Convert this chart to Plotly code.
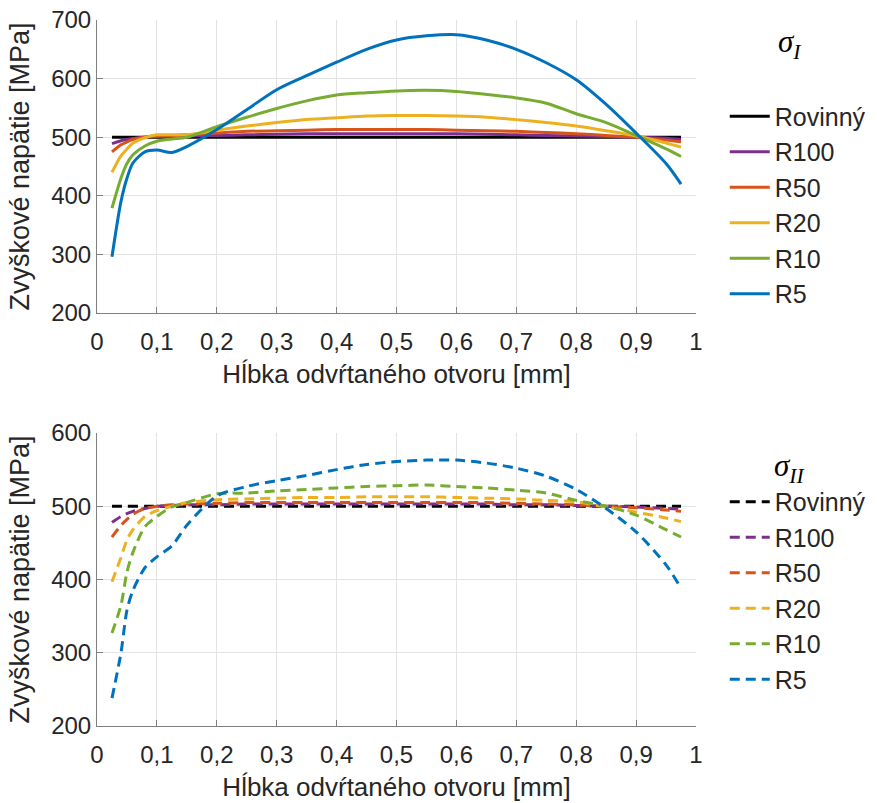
import plotly.graph_objects as go

# ---------------- data ----------------
x = [0.025, 0.04, 0.05, 0.06, 0.08, 0.1, 0.125, 0.15, 0.2, 0.25, 0.3, 0.35, 0.4,
     0.45, 0.5, 0.55, 0.6, 0.65, 0.7, 0.75, 0.8, 0.85, 0.9, 0.95, 0.975]

names = ["Rovinný", "R100", "R50", "R20", "R10", "R5"]

# sigma_I (top)
s1_rov = [500] * 25
s1_r100 = [489, 494, 496, 498, 500, 501, 501, 502, 503, 504, 505, 506, 506,
           506, 506, 506, 506, 505, 504, 503, 502, 501, 500, 498, 496]
s1_r50 = [475, 487, 492, 496, 500, 502, 503, 504, 507, 510, 511, 512, 513,
          513, 513, 513, 512, 511, 510, 508, 506, 503, 500, 495, 492]
s1_r20 = [440, 468, 480, 490, 499, 504, 504, 504, 512, 519, 525, 530, 533,
          536, 537, 537, 536, 534, 530, 525, 519, 511, 502, 490, 483]
s1_r10 = [379, 430, 455, 470, 485, 493, 497, 500, 518, 534, 549, 562, 572,
          576, 579, 580, 578, 573, 567, 558, 540, 525, 503, 480, 467]
s1_r5 = [296, 390, 430, 456, 475, 478, 474, 484, 513, 547, 581, 605, 628,
         650, 666, 673, 675, 666, 650, 627, 598, 556, 507, 455, 420]

# sigma_II (bottom)
s2_rov = [500] * 25
s2_r100 = [478, 486, 490, 493, 497, 500, 501, 502, 502, 503, 503, 503, 503,
           503, 503, 503, 503, 503, 502, 502, 501, 500, 499, 497, 496]
s2_r50 = [458, 474, 482, 489, 497, 500, 502, 503, 504, 505, 505, 505, 505,
          505, 505, 505, 505, 505, 504, 503, 502, 500, 498, 495, 493]
s2_r20 = [397, 430, 454, 468, 486, 494, 500, 505, 509, 510, 511, 512, 512,
          513, 513, 513, 512, 511, 510, 508, 506, 499, 492, 484, 479]
s2_r10 = [327, 365, 410, 437, 472, 486, 499, 505, 517, 518, 521, 523, 525,
          527, 528, 529, 527, 525, 522, 518, 508, 500, 488, 468, 458]
s2_r5 = [238, 300, 358, 385, 416, 431, 446, 474, 514, 527, 535, 542, 550,
         557, 561, 563, 563, 559, 552, 541, 523, 497, 465, 420, 388]

top_series = [s1_rov, s1_r100, s1_r50, s1_r20, s1_r10, s1_r5]
bot_series = [s2_rov, s2_r100, s2_r50, s2_r20, s2_r10, s2_r5]

x_ticks = [0, 0.1, 0.2, 0.3, 0.4, 0.5, 0.6, 0.7, 0.8, 0.9, 1]
x_ticklabels = ["0", "0,1", "0,2", "0,3", "0,4", "0,5", "0,6", "0,7", "0,8", "0,9", "1"]
y1_ticks = [200, 300, 400, 500, 600, 700]
y2_ticks = [200, 300, 400, 500, 600]

x_title = "Hĺbka odvŕtaného otvoru [mm]"
y_title = "Zvyškové napätie [MPa]"
legend_titles = ["<i>σ<sub>I</sub></i>", "<i>σ<sub>II</sub></i>"]

# ---------------- style ----------------
colors = ["#000000", "#7E2F8E", "#D95319", "#EDB120", "#77AC30", "#0072BD"]
FONT = "Liberation Sans, Arial, sans-serif"
SERIF = "Liberation Serif, Times New Roman, serif"
AXIS_COL = "#808080"
TXT_COL = "#262626"
GRID_COL = "#e3e3e3"

fig = go.Figure()

for i, (nm, ys) in enumerate(zip(names, top_series)):
    fig.add_trace(go.Scatter(
        x=x, y=ys, name=nm, mode="lines",
        line=dict(color=colors[i], width=3, shape="spline", smoothing=0.8),
        xaxis="x", yaxis="y", legend="legend"))

for i, (nm, ys) in enumerate(zip(names, bot_series)):
    fig.add_trace(go.Scatter(
        x=x, y=ys, name=nm, mode="lines",
        line=dict(color=colors[i], width=3, dash="10px,6px", shape="spline", smoothing=0.8),
        xaxis="x2", yaxis="y2", legend="legend2"))

axis_common = dict(
    showline=True, linecolor=AXIS_COL, linewidth=1, mirror=False,
    ticks="inside", ticklen=6, tickcolor=AXIS_COL, tickwidth=1,
    showgrid=True, gridcolor=GRID_COL, gridwidth=1, zeroline=False,
    tickfont=dict(family=FONT, size=24, color=TXT_COL),
    automargin=False, ticklabeloverflow="allow",
)

legend_common = dict(
    xanchor="left", yanchor="top",
    font=dict(family=FONT, size=25, color=TXT_COL),
    bgcolor="rgba(0,0,0,0)", borderwidth=0, traceorder="normal",
    itemwidth=40,
)

fig.update_layout(
    width=877, height=803,
    margin=dict(l=97, r=181, t=20, b=77, autoexpand=False),
    plot_bgcolor="white", paper_bgcolor="white",
    showlegend=True,
    xaxis=dict(domain=[0, 1], range=[0, 1], anchor="y", tickvals=x_ticks, ticktext=x_ticklabels,
               ticklabelstandoff=7,
               title=dict(text=x_title, font=dict(family=FONT, size=26, color=TXT_COL), standoff=11),
               **axis_common),
    yaxis=dict(domain=[0.585, 1], range=[200, 700], anchor="x", tickvals=y1_ticks,
               title=dict(text=y_title, font=dict(family=FONT, size=27, color=TXT_COL), standoff=13),
               **axis_common),
    xaxis2=dict(domain=[0, 1], range=[0, 1], anchor="y2", tickvals=x_ticks, ticktext=x_ticklabels,
                ticklabelstandoff=7,
                title=dict(text=x_title, font=dict(family=FONT, size=26, color=TXT_COL), standoff=11),
                **axis_common),
    yaxis2=dict(domain=[0, 0.415], range=[200, 600], anchor="x2", tickvals=y2_ticks,
                title=dict(text=y_title, font=dict(family=FONT, size=27, color=TXT_COL), standoff=13),
                **axis_common),
    legend=dict(x=1.048, y=0.896, **legend_common),
    legend2=dict(x=1.048, y=0.350, **legend_common),
    annotations=[
        dict(text=legend_titles[0], x=1.157, y=0.966, xref="paper", yref="paper",
             xanchor="center", yanchor="middle", showarrow=False,
             font=dict(family=SERIF, size=31, color="#000000")),
        dict(text=legend_titles[1], x=1.157, y=0.366, xref="paper", yref="paper",
             xanchor="center", yanchor="middle", showarrow=False,
             font=dict(family=SERIF, size=31, color="#000000")),
    ],
)

fig.write_html("out.html", config={"displayModeBar": False},
               post_script="document.body.style.margin='0px';")
